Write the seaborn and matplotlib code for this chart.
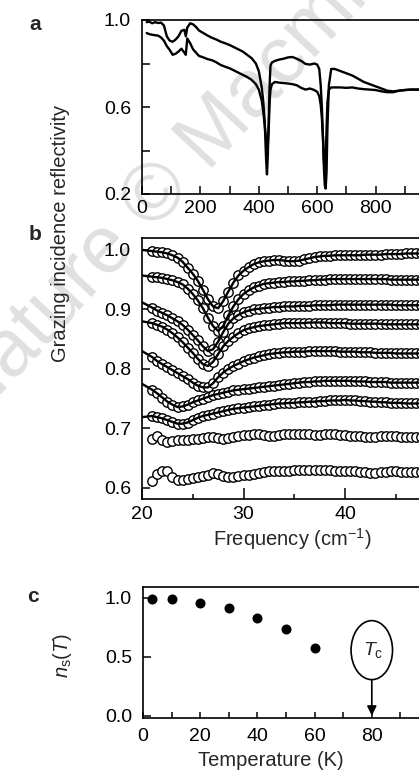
import numpy as np
import pandas as pd
import matplotlib
matplotlib.use("Agg")
import matplotlib.pyplot as plt
from matplotlib.patches import Ellipse
from matplotlib.ticker import FixedLocator, FixedFormatter
import seaborn as sns

# ---- panel a: reflectivity over the wide range (cm-1) ----
freq_a = [16, 25, 35, 45, 55, 65, 75, 85, 95, 105,
          115, 125, 135, 145, 150, 155, 165, 175, 185, 195,
          210, 225, 240, 255, 270, 285, 300, 315, 330, 345,
          360, 375, 390, 400, 410, 415, 420, 425, 428, 431,
          434, 437, 440, 445, 455, 470, 485, 500, 515, 530,
          545, 560, 575, 590, 600, 607, 612, 616, 620, 623,
          626, 629, 632, 635, 640, 648, 660, 680, 700, 720,
          740, 760, 780, 800, 820, 840, 860, 880, 900, 920,
          940, 960, 980, 1000]
refl_a_upper = [0.990, 0.992, 0.985, 0.990, 0.986, 0.988, 0.975, 0.925, 0.905, 0.900,
                0.910, 0.925, 0.950, 0.955, 0.925, 0.965, 0.985, 0.980, 0.968, 0.952,
                0.940, 0.928, 0.918, 0.910, 0.900, 0.893, 0.885, 0.875, 0.865, 0.855,
                0.840, 0.825, 0.800, 0.765, 0.690, 0.630, 0.540, 0.360, 0.290, 0.380,
                0.550, 0.700, 0.790, 0.805, 0.812, 0.818, 0.822, 0.828, 0.830, 0.822,
                0.812, 0.798, 0.795, 0.800, 0.795, 0.775, 0.700, 0.600, 0.450, 0.320,
                0.240, 0.225, 0.300, 0.500, 0.700, 0.775, 0.775, 0.765, 0.755, 0.745,
                0.730, 0.715, 0.705, 0.695, 0.685, 0.675, 0.672, 0.675, 0.678, 0.680,
                0.680, 0.680, 0.680, 0.680]
refl_a_lower = [0.940, 0.935, 0.932, 0.930, 0.928, 0.920, 0.905, 0.880, 0.862, 0.840,
                0.845, 0.855, 0.868, 0.850, 0.840, 0.915, 0.893, 0.865, 0.850, 0.835,
                0.828, 0.820, 0.815, 0.805, 0.793, 0.785, 0.778, 0.768, 0.758, 0.748,
                0.738, 0.725, 0.705, 0.680, 0.630, 0.580, 0.520, 0.450, 0.420, 0.430,
                0.500, 0.620, 0.680, 0.705, 0.715, 0.712, 0.710, 0.708, 0.705, 0.700,
                0.688, 0.680, 0.685, 0.678, 0.670, 0.650, 0.610, 0.550, 0.450, 0.350,
                0.310, 0.360, 0.500, 0.620, 0.680, 0.690, 0.690, 0.690, 0.688, 0.690,
                0.685, 0.682, 0.680, 0.678, 0.672, 0.668, 0.668, 0.675, 0.678, 0.680,
                0.680, 0.680, 0.680, 0.680]

# ---- panel b: low-frequency spectra at several temperatures ----
freq_b = np.arange(21, 47.51, 0.5)
b1 = [0.998, 0.997, 0.996, 0.994, 0.991, 0.987, 0.980, 0.970, 0.960, 0.948,
      0.933, 0.917, 0.905, 0.902, 0.914, 0.930, 0.945, 0.957, 0.965, 0.971,
      0.976, 0.979, 0.981, 0.982, 0.983, 0.983, 0.982, 0.981, 0.981, 0.982,
      0.984, 0.986, 0.988, 0.989, 0.990, 0.990, 0.991, 0.991, 0.991, 0.991,
      0.991, 0.991, 0.992, 0.992, 0.992, 0.992, 0.993, 0.993, 0.993, 0.993,
      0.994, 0.994, 0.994, 0.994]
b2 = [0.955, 0.954, 0.953, 0.951, 0.949, 0.946, 0.942, 0.935, 0.926, 0.915,
      0.902, 0.886, 0.872, 0.864, 0.872, 0.890, 0.905, 0.917, 0.926, 0.932,
      0.937, 0.940, 0.943, 0.944, 0.945, 0.946, 0.946, 0.947, 0.947, 0.948,
      0.948, 0.949, 0.949, 0.950, 0.950, 0.951, 0.951, 0.951, 0.951, 0.951,
      0.951, 0.951, 0.951, 0.951, 0.951, 0.951, 0.951, 0.950, 0.950, 0.950,
      0.950, 0.950, 0.950, 0.950]
b3 = [0.903, 0.898, 0.894, 0.890, 0.885, 0.880, 0.874, 0.866, 0.857, 0.848,
      0.838, 0.830, 0.833, 0.846, 0.862, 0.876, 0.885, 0.891, 0.895, 0.898,
      0.900, 0.901, 0.902, 0.903, 0.904, 0.904, 0.905, 0.905, 0.905, 0.906,
      0.906, 0.906, 0.907, 0.907, 0.907, 0.907, 0.908, 0.908, 0.908, 0.908,
      0.908, 0.908, 0.908, 0.908, 0.908, 0.908, 0.908, 0.908, 0.907, 0.907,
      0.907, 0.907, 0.907, 0.907]
b4 = [0.877, 0.874, 0.871, 0.866, 0.860, 0.853, 0.845, 0.836, 0.827, 0.817,
      0.808, 0.805, 0.812, 0.825, 0.838, 0.847, 0.854, 0.860, 0.865, 0.868,
      0.870, 0.872, 0.873, 0.874, 0.875, 0.876, 0.877, 0.877, 0.877, 0.877,
      0.877, 0.878, 0.878, 0.878, 0.878, 0.877, 0.877, 0.877, 0.877, 0.876,
      0.876, 0.876, 0.876, 0.876, 0.876, 0.876, 0.875, 0.875, 0.875, 0.875,
      0.875, 0.875, 0.875, 0.875]
b5 = [0.820, 0.813, 0.808, 0.803, 0.798, 0.793, 0.788, 0.783, 0.777, 0.772,
      0.769, 0.769, 0.776, 0.786, 0.794, 0.800, 0.805, 0.809, 0.813, 0.816,
      0.819, 0.821, 0.823, 0.825, 0.826, 0.827, 0.828, 0.828, 0.829, 0.829,
      0.829, 0.830, 0.830, 0.830, 0.830, 0.830, 0.830, 0.829, 0.829, 0.829,
      0.829, 0.828, 0.828, 0.828, 0.827, 0.827, 0.827, 0.827, 0.826, 0.826,
      0.826, 0.826, 0.826, 0.826]
b6 = [0.765, 0.759, 0.752, 0.745, 0.740, 0.736, 0.737, 0.740, 0.744, 0.747,
      0.750, 0.753, 0.756, 0.758, 0.760, 0.762, 0.764, 0.765, 0.766, 0.767,
      0.768, 0.769, 0.770, 0.771, 0.772, 0.773, 0.774, 0.775, 0.776, 0.777,
      0.778, 0.778, 0.779, 0.779, 0.780, 0.780, 0.780, 0.780, 0.780, 0.780,
      0.779, 0.779, 0.779, 0.778, 0.778, 0.778, 0.778, 0.777, 0.777, 0.777,
      0.777, 0.777, 0.777, 0.777]
b7 = [0.721, 0.719, 0.717, 0.714, 0.711, 0.708, 0.708, 0.710, 0.714, 0.718,
      0.721, 0.723, 0.725, 0.727, 0.729, 0.731, 0.733, 0.734, 0.735, 0.736,
      0.737, 0.738, 0.739, 0.740, 0.741, 0.742, 0.742, 0.743, 0.743, 0.744,
      0.744, 0.745, 0.745, 0.746, 0.746, 0.747, 0.747, 0.747, 0.748, 0.747,
      0.747, 0.746, 0.746, 0.745, 0.745, 0.744, 0.744, 0.743, 0.743, 0.743,
      0.742, 0.742, 0.742, 0.742]
b8 = [0.683, 0.688, 0.680, 0.678, 0.679, 0.680, 0.680, 0.681, 0.682, 0.683,
      0.684, 0.685, 0.685, 0.684, 0.683, 0.684, 0.686, 0.688, 0.689, 0.689,
      0.690, 0.690, 0.689, 0.688, 0.688, 0.689, 0.690, 0.691, 0.691, 0.690,
      0.690, 0.690, 0.689, 0.689, 0.690, 0.690, 0.690, 0.689, 0.689, 0.688,
      0.687, 0.687, 0.686, 0.686, 0.686, 0.687, 0.687, 0.687, 0.687, 0.686,
      0.686, 0.686, 0.686, 0.686]
b9 = [0.612, 0.624, 0.629, 0.628, 0.619, 0.614, 0.613, 0.615, 0.616, 0.618,
      0.620, 0.622, 0.625, 0.624, 0.620, 0.618, 0.618, 0.620, 0.622, 0.622,
      0.624, 0.626, 0.627, 0.628, 0.628, 0.629, 0.629, 0.629, 0.630, 0.630,
      0.630, 0.631, 0.631, 0.630, 0.630, 0.630, 0.629, 0.629, 0.628, 0.628,
      0.628, 0.627, 0.627, 0.626, 0.626, 0.627, 0.627, 0.628, 0.628, 0.627,
      0.627, 0.627, 0.627, 0.627]
# fits start at 20 cm-1, only the upper seven spectra have one
fit_start = [1.000, 0.957, 0.912, 0.880, 0.830, 0.775, 0.719]

# ---- panel c: superfluid density vs temperature ----
temp_c = [3, 10, 20, 30, 40, 50, 60]
ns_c = [0.99, 0.985, 0.955, 0.91, 0.83, 0.73, 0.575]
tc = 80

# ---- style ----
sns.set_style("ticks")
fam = "Liberation Sans"
plt.rcParams["font.family"] = [fam, "DejaVu Sans"]
plt.rcParams["mathtext.fontset"] = "custom"
plt.rcParams["mathtext.rm"] = fam
plt.rcParams["mathtext.it"] = fam + ":italic"
FS = 14

W, H = 419, 778


def box(l, t, r, b):
    return [l / W, 1 - b / H, (r - l) / W, (b - t) / H]


def style_ax(ax):
    for s in ax.spines.values():
        s.set_linewidth(1.2)
        s.set_color("black")
    ax.set_facecolor("none")
    ax.tick_params(which="both", direction="in", width=1.1, labelsize=FS,
                   colors="black", top=False, right=False)
    ax.tick_params(which="major", length=6)
    ax.tick_params(which="minor", length=3.5)
    ax.set_xlabel("")
    ax.set_ylabel("")


fig = plt.figure(figsize=(W / 100, H / 100), dpi=100)

# watermark
fig.text(-28 / W, 1 - 425 / H, "Nature \u00a9 Macmillan", rotation=47,
         rotation_mode="anchor", ha="left", va="baseline", fontsize=58,
         color="#e0e0e0", family="Liberation Sans", zorder=-1)

# panel a
ax_a = fig.add_axes(box(142, 20, 434, 194))
df_a = pd.DataFrame({"freq": freq_a * 2,
                     "refl": refl_a_upper + refl_a_lower,
                     "curve": ["upper"] * len(freq_a) + ["lower"] * len(freq_a)})
sns.lineplot(data=df_a, x="freq", y="refl", units="curve", estimator=None,
             sort=False, color="black", lw=1.7, ax=ax_a)
ax_a.set_xlim(0, 1000)
ax_a.set_ylim(0.2, 1.0)
ax_a.xaxis.set_major_locator(FixedLocator(list(range(0, 1001, 100))))
ax_a.xaxis.set_major_formatter(FixedFormatter(["0", "", "200", "", "400", "", "600", "", "800", "", ""]))
ax_a.yaxis.set_major_locator(FixedLocator([0.2, 0.4, 0.6, 0.8, 1.0]))
ax_a.yaxis.set_major_formatter(FixedFormatter(["0.2", "", "0.6", "", "1.0"]))
style_ax(ax_a)
ax_a.tick_params(axis="y", pad=8)
ax_a.tick_params(axis="x", pad=4)

# panel b
ax_b = fig.add_axes(box(142, 238, 446.5, 499))
curves = [b1, b2, b3, b4, b5, b6, b7, b8, b9]
df_b = pd.DataFrame({"freq": np.tile(freq_b, len(curves)),
                     "refl": np.concatenate(curves),
                     "curve": np.repeat(np.arange(len(curves)), len(freq_b))})
fit_rows = []
for i, start in enumerate(fit_start):
    fit_rows.append(pd.DataFrame({"freq": np.r_[20, freq_b],
                                  "refl": np.r_[start, curves[i]],
                                  "curve": i}))
df_fit = pd.concat(fit_rows)
sns.scatterplot(data=df_b, x="freq", y="refl", marker="o", s=46,
                facecolor="white", edgecolor="black", linewidth=1.0, ax=ax_b, zorder=2)
sns.lineplot(data=df_fit, x="freq", y="refl", units="curve", estimator=None,
             sort=False, color="black", lw=1.7, ax=ax_b, zorder=3)
ax_b.set_xlim(20, 50)
ax_b.set_ylim(0.5815, 1.020)
ax_b.xaxis.set_major_locator(FixedLocator([20, 30, 40, 50]))
ax_b.xaxis.set_minor_locator(FixedLocator([25, 35, 45]))
ax_b.xaxis.set_major_formatter(FixedFormatter(["20", "30", "40", ""]))
ax_b.yaxis.set_major_locator(FixedLocator([0.6, 0.7, 0.8, 0.9, 1.0]))
ax_b.yaxis.set_major_formatter(FixedFormatter(["0.6", "0.7", "0.8", "0.9", "1.0"]))
style_ax(ax_b)
ax_b.tick_params(axis="x", which="major", length=8)
ax_b.tick_params(axis="y", pad=8)
ax_b.tick_params(axis="x", pad=5)

# panel c
ax_c = fig.add_axes(box(143, 587, 429, 718))
sns.scatterplot(x=temp_c, y=ns_c, color="black", s=52, edgecolor="black",
                linewidth=0, ax=ax_c)
ax_c.set_xlim(0, 100)
ax_c.set_ylim(-0.02, 1.09)
ax_c.xaxis.set_major_locator(FixedLocator(list(range(0, 101, 10))))
ax_c.xaxis.set_major_formatter(FixedFormatter(["0", "", "20", "", "40", "", "60", "", "80", "", ""]))
ax_c.yaxis.set_major_locator(FixedLocator([0.0, 0.5, 1.0]))
ax_c.yaxis.set_major_formatter(FixedFormatter(["0.0", "0.5", "1.0"]))
style_ax(ax_c)
ax_c.tick_params(axis="x", length=4)
ax_c.tick_params(axis="y", pad=8)
ax_c.tick_params(axis="x", pad=7)
ax_c.add_patch(Ellipse((tc, 0.555), width=14.5, height=0.5, fill=False,
                       lw=1.2, edgecolor="black"))
ax_c.text(tc + 0.5, 0.56, r"$T_\mathrm{c}$", ha="center", va="center", fontsize=FS)
ax_c.annotate("", xy=(tc, 0.0), xytext=(tc, 0.305),
              arrowprops=dict(arrowstyle="-|>", color="black", lw=1.2,
                              mutation_scale=14, shrinkA=0, shrinkB=0))

# labels
fig.text(60 / W, 1 - 233 / H, "Grazing incidence reflectivity", rotation=90,
         ha="center", va="center", fontsize=FS + 0.5)
fig.text(292 / W, 1 - 539 / H, r"Frequency (cm$^{-1}$)", ha="center",
         va="center", fontsize=FS + 0.5)
fig.text(271 / W, 1 - 760 / H, "Temperature (K)", ha="center", va="center",
         fontsize=FS + 0.5)
fig.text(62 / W, 1 - 655 / H, r"$n_\mathrm{s}(T)$", rotation=90, ha="center",
         va="center", fontsize=FS + 0.5)
for letter, (x, y) in {"a": (35, 24), "b": (35, 235), "c": (33, 597)}.items():
    fig.text(x / W, 1 - y / H, letter, ha="center", va="center", fontsize=15,
             fontweight="heavy", family="Liberation Sans")

fig.savefig("out.png", dpi=100)
